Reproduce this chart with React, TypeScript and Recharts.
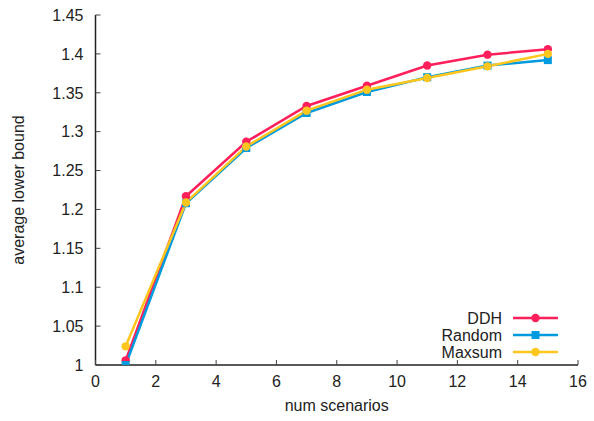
import React from "react";
import { LineChart, Line, XAxis, YAxis } from "recharts";

const scenarios = [1, 3, 5, 7, 9, 11, 13, 15];
const ddh = [1.006, 1.217, 1.287, 1.333, 1.359, 1.385, 1.399, 1.406];
const random = [1.0, 1.208, 1.279, 1.324, 1.351, 1.37, 1.385, 1.392];
const maxsum = [1.024, 1.209, 1.281, 1.327, 1.354, 1.369, 1.384, 1.4];

const xTicks = [0, 2, 4, 6, 8, 10, 12, 14, 16];
const yTicks = [1, 1.05, 1.1, 1.15, 1.2, 1.25, 1.3, 1.35, 1.4, 1.45];

const seriesNames = ["DDH", "Random", "Maxsum"];
const seriesColors = ["#ff1f5b", "#009ade", "#ffc61e"];
const seriesShapes = ["circle", "square", "circle"];

const data = scenarios.map((x, i) => ({
  x,
  ddh: ddh[i],
  random: random[i],
  maxsum: maxsum[i],
}));

const FONT = "'Liberation Sans', Arial, Helvetica, sans-serif";
const TEXT = "#222";
const FRAME = "#222";
const TICK = "#444";

const fmtY = (v: number) => String(parseFloat(v.toFixed(2)));

function Marker({ cx, cy, shape, color }: any) {
  if (cx == null || cy == null) return null;
  if (shape === "square") {
    return <rect x={cx - 4} y={cy - 4} width={8} height={8} fill={color} />;
  }
  return <circle cx={cx} cy={cy} r={4.2} fill={color} />;
}

const BottomTick = ({ x, y, payload }: any) => (
  <g>
    <line x1={x} x2={x} y1={y} y2={y - 5} stroke={TICK} strokeWidth={1} />
    <text x={x} y={y + 22} textAnchor="middle" fontSize={16} fontFamily={FONT} fill={TEXT}>
      {payload.value}
    </text>
  </g>
);

const TopTick = ({ x, y, payload }: any) =>
  payload.value === 0 || payload.value === 16 ? <g /> : (
    <line x1={x} x2={x} y1={y} y2={y + 5} stroke={TICK} strokeWidth={1} />
  );

const LeftTick = ({ x, y, payload }: any) => (
  <g>
    <line x1={x} x2={x + 5} y1={y} y2={y} stroke={TICK} strokeWidth={1} />
    <text x={x - 12} y={y} dy="0.36em" textAnchor="end" fontSize={16} fontFamily={FONT} fill={TEXT}>
      {fmtY(payload.value)}
    </text>
  </g>
);

const RightTick = ({ x, y, payload }: any) =>
  payload.value === 1 || payload.value === 1.45 ? <g /> : (
    <line x1={x} x2={x - 5} y1={y} y2={y} stroke={TICK} strokeWidth={1} />
  );

function ChartLegend() {
  const rowY = [318, 335, 352];
  return (
    <svg
      width={594}
      height={421}
      style={{ position: "absolute", left: 0, top: 0, pointerEvents: "none" }}
    >
      {seriesNames.map((name, i) => (
        <g key={name}>
          <text
            x={502}
            y={rowY[i]}
            dy="0.36em"
            textAnchor="end"
            fontSize={16}
            fontFamily={FONT}
            fill={TEXT}
          >
            {name}
          </text>
          <line x1={513} x2={558} y1={rowY[i]} y2={rowY[i]} stroke={seriesColors[i]} strokeWidth={2.5} />
          <Marker cx={535.5} cy={rowY[i]} shape={seriesShapes[i]} color={seriesColors[i]} />
        </g>
      ))}
    </svg>
  );
}

export default function App() {
  const keys = ["ddh", "random", "maxsum"];
  return (
    <div style={{ position: "absolute", left: 0, top: 0, width: 594, height: 421, background: "#fff" }}>
      <LineChart
        width={594}
        height={421}
        data={data}
        margin={{ top: 15, right: 16, bottom: 0, left: 0 }}
      >
        <XAxis
          xAxisId="bottom"
          dataKey="x"
          type="number"
          domain={[0, 16]}
          ticks={xTicks}
          allowDataOverflow
          height={56}
          axisLine={{ stroke: FRAME, strokeWidth: 1.5 }}
          tickLine={false}
          tickSize={0}
          tickMargin={0}
          tick={<BottomTick />}
          interval={0}
          label={{
            value: "num scenarios",
            position: "insideBottom",
            offset: 10,
            fontSize: 16,
            fontFamily: FONT,
            fill: TEXT,
          }}
        />
        <XAxis
          xAxisId="top"
          orientation="top"
          dataKey="x"
          type="number"
          domain={[0, 16]}
          ticks={xTicks}
          allowDataOverflow
          height={0}
          axisLine={{ stroke: FRAME, strokeWidth: 1.5 }}
          tickLine={false}
          tickSize={0}
          tickMargin={0}
          tick={<TopTick />}
          interval={0}
        />
        <YAxis
          yAxisId="left"
          type="number"
          domain={[1, 1.45]}
          ticks={yTicks}
          allowDataOverflow
          width={95.5}
          axisLine={{ stroke: FRAME, strokeWidth: 1.5 }}
          tickLine={false}
          tickSize={0}
          tickMargin={0}
          tick={<LeftTick />}
          interval={0}
          label={{
            value: "average lower bound",
            angle: -90,
            position: "center",
            dx: -29.5,
            fontSize: 16,
            fontFamily: FONT,
            fill: TEXT,
          }}
        />
        <YAxis
          yAxisId="right"
          orientation="right"
          type="number"
          domain={[1, 1.45]}
          ticks={yTicks}
          allowDataOverflow
          width={0}
          axisLine={{ stroke: FRAME, strokeWidth: 1.5 }}
          tickLine={false}
          tickSize={0}
          tickMargin={0}
          tick={<RightTick />}
          interval={0}
        />
        {keys.map((k, i) => (
          <Line
            key={k}
            xAxisId="bottom"
            yAxisId="left"
            type="linear"
            dataKey={k}
            name={seriesNames[i]}
            stroke={seriesColors[i]}
            strokeWidth={2.5}
            isAnimationActive={false}
            dot={(p: any) => (
              <Marker key={`${k}-${p.index}`} cx={p.cx} cy={p.cy} shape={seriesShapes[i]} color={seriesColors[i]} />
            )}
            activeDot={false}
          />
        ))}
      </LineChart>
      <ChartLegend />
    </div>
  );
}
